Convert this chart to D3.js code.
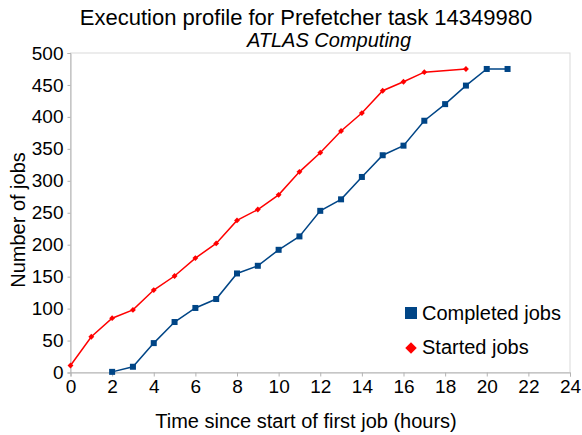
<!DOCTYPE html>
<html>
<head>
<meta charset="utf-8">
<script src="https://cdn.jsdelivr.net/npm/d3@7"></script>
<style>
body { margin: 0; background: #fff; }
text { font-family: "Liberation Sans", Arial, sans-serif; fill: #000; }
</style>
</head>
<body>
<script>
const WIDTH = 582;
const HEIGHT = 435;

// data
const startedHours = [0, 1, 2, 3, 4, 5, 6, 7, 8, 9, 10, 11, 12, 13, 14, 15, 16, 17, 19];
const startedJobs = [11, 56, 85, 98, 129, 151, 179, 202, 238, 255, 278, 314, 344, 378, 406, 441, 455, 470, 475];
const completedHours = [2, 3, 4, 5, 6, 7, 8, 9, 10, 11, 12, 13, 14, 15, 16, 17, 18, 19, 20, 21];
const completedJobs = [1, 9, 46, 79, 101, 115, 155, 167, 192, 213, 253, 271, 306, 340, 355, 394, 420, 449, 475, 475];
const xTicks = [0, 2, 4, 6, 8, 10, 12, 14, 16, 18, 20, 22, 24];
const yTicks = [0, 50, 100, 150, 200, 250, 300, 350, 400, 450, 500];

const PLOT_L = 70.5, PLOT_R = 570, PLOT_T = 53, PLOT_B = 372.5;

const svg = d3.select('body')
    .append('svg')
    .attr('width', WIDTH)
    .attr('height', HEIGHT);

const x = d3.scaleLinear().domain([0, 24]).range([PLOT_L, PLOT_R]);
const y = d3.scaleLinear().domain([0, 500]).range([PLOT_B, PLOT_T]);

// plot frame
svg.append('rect')
    .attr('x', PLOT_L)
    .attr('y', PLOT_T)
    .attr('width', PLOT_R - PLOT_L)
    .attr('height', PLOT_B - PLOT_T)
    .attr('fill', 'none')
    .attr('stroke', '#d9d9d9');

const xAxis = svg.append('g')
    .attr('transform', `translate(0, ${PLOT_B})`)
    .call(d3.axisBottom(x).tickValues(xTicks).tickSize(4).tickPadding(3));
xAxis.selectAll('text').attr('font-size', '19px').attr('font-family', 'Liberation Sans');

const yAxis = svg.append('g')
    .attr('transform', `translate(${PLOT_L}, 0)`)
    .call(d3.axisLeft(y).tickValues(yTicks).tickSize(3).tickPadding(4));
yAxis.selectAll('text').attr('font-size', '19px').attr('font-family', 'Liberation Sans');

svg.selectAll('.domain, .tick line').attr('stroke', '#b3b3b3');

const line = d3.line().x(d => x(d[0])).y(d => y(d[1]));

const started = startedHours.map((h, i) => [h, startedJobs[i]]);
const completed = completedHours.map((h, i) => [h, completedJobs[i]]);

svg.append('path')
    .attr('d', line(completed))
    .attr('fill', 'none')
    .attr('stroke', '#004586')
    .attr('stroke-width', 1.5);

svg.append('path')
    .attr('d', line(started))
    .attr('fill', 'none')
    .attr('stroke', '#ff0000')
    .attr('stroke-width', 1.5);

svg.selectAll('.sq')
    .data(completed)
    .enter().append('rect')
    .attr('x', d => x(d[0]) - 3)
    .attr('y', d => y(d[1]) - 3)
    .attr('width', 6)
    .attr('height', 6)
    .attr('fill', '#004586');

const diamond = d3.symbol().type(d3.symbolDiamond2).size(22);
svg.selectAll('.dm')
    .data(started)
    .enter().append('path')
    .attr('transform', d => `translate(${x(d[0])}, ${y(d[1])})`)
    .attr('d', diamond)
    .attr('fill', '#ff0000');

// titles
svg.append('text')
    .attr('x', 306)
    .attr('y', 25)
    .attr('text-anchor', 'middle')
    .attr('font-size', '22px')
    .text('Execution profile for Prefetcher task 14349980');

svg.append('text')
    .attr('x', 329)
    .attr('y', 46.5)
    .attr('text-anchor', 'middle')
    .attr('font-size', '20px')
    .attr('font-style', 'italic')
    .text('ATLAS Computing');

svg.append('text')
    .attr('x', 306)
    .attr('y', 428)
    .attr('text-anchor', 'middle')
    .attr('font-size', '20px')
    .text('Time since start of first job (hours)');

svg.append('text')
    .attr('transform', 'translate(25, 220) rotate(-90)')
    .attr('text-anchor', 'middle')
    .attr('font-size', '20px')
    .text('Number of jobs');

// legend
const legend = svg.append('g').attr('transform', 'translate(405, 0)');
legend.append('rect')
    .attr('x', 0).attr('y', 307)
    .attr('width', 12).attr('height', 12)
    .attr('fill', '#004586');
legend.append('text')
    .attr('x', 17).attr('y', 320)
    .attr('font-size', '20px')
    .text('Completed jobs');
legend.append('path')
    .attr('transform', 'translate(6, 348)')
    .attr('d', d3.symbol().type(d3.symbolDiamond2).size(84))
    .attr('fill', '#ff0000');
legend.append('text')
    .attr('x', 17).attr('y', 354)
    .attr('font-size', '20px')
    .text('Started jobs');
</script>
</body>
</html>
